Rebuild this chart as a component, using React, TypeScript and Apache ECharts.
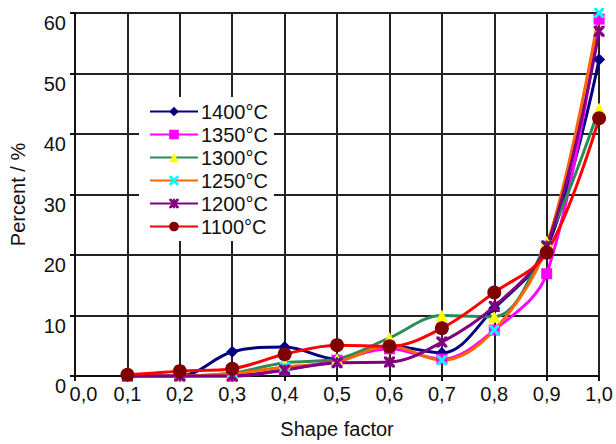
import React, { useEffect, useRef } from "react";
import * as echarts from "echarts";

const xValues = [0.1, 0.2, 0.3, 0.4, 0.5, 0.6, 0.7, 0.8, 0.9, 1.0];
const seriesNames = ["1400°C", "1350°C", "1300°C", "1250°C", "1200°C", "1100°C"];
const s1400 = [0, 0, 4.0, 4.8, 2.8, 5.0, 3.8, 11.2, 21, 52.3];
const s1350 = [0, 0, 0, 1.0, 2.6, 4.5, 2.8, 7.6, 16.9, 59];
const s1300 = [0, 0, 0.5, 2.2, 2.8, 6.3, 10.0, 9.8, 22.2, 44.2];
const s1250 = [0, 0, 0.4, 1.5, 2.3, 5.0, 2.6, 7.6, 21.6, 60];
const s1200 = [0, 0, 0, 1.0, 2.2, 2.3, 5.6, 11.5, 21.5, 57];
const s1100 = [0.2, 0.8, 1.2, 3.6, 5.1, 4.9, 7.9, 13.8, 20.4, 42.6];
const xTicks = [0, 0.1, 0.2, 0.3, 0.4, 0.5, 0.6, 0.7, 0.8, 0.9, 1.0];

const lineColors = ["#000080", "#FF00FF", "#2E8B57", "#FF6600", "#800080", "#FF0000"];
const markerColors = ["#000080", "#FF00FF", "#FFFF00", "#00FFFF", "#800080", "#800000"];
const xPath = "path://M0,0 L2.5,0 L5,3 L7.5,0 L10,0 L10,2 L7,5 L10,8 L10,10 L7.5,10 L5,7 L2.5,10 L0,10 L0,8 L3,5 L0,2 Z";
const starPath = "path://M0,0 L2.5,0 L5,3 L7.5,0 L10,0 L10,2 L7,5 L10,8 L10,10 L7.5,10 L5,7 L2.5,10 L0,10 L0,8 L3,5 L0,2 Z M4,0 L6,0 L6,10 L4,10 Z";
const symbols = ["diamond", "rect", "triangle", xPath, starPath, "circle"];
const symbolSizes = [12, 11, 12, 10, 11, 14];

const font = "Liberation Sans, Arial, sans-serif";

export default function App() {
  const ref = useRef<HTMLDivElement>(null);
  useEffect(() => {
    if (!ref.current) return;
    const chart = echarts.init(ref.current, null, { renderer: "svg" });
    const all = [s1400, s1350, s1300, s1250, s1200, s1100];
    chart.setOption({
      animation: false,
      backgroundColor: "#ffffff",
      textStyle: { fontFamily: font },
      grid: { left: 74.5, right: 1.5, top: 13, bottom: 63, containLabel: false },
      legend: {
        orient: "vertical",
        left: 139,
        top: 97,
        backgroundColor: "#ffffff",
        padding: [4, 6, 4, 10],
        itemWidth: 48,
        itemHeight: 12,
        itemGap: 2,
        data: seriesNames,
        textStyle: { fontSize: 20, color: "#111", fontFamily: font, lineHeight: 21, padding: [0, 0, 0, -2] },
      },
      xAxis: {
        type: "value",
        min: 0,
        max: 1,
        interval: 0.1,
        name: "Shape factor",
        nameLocation: "middle",
        nameGap: 43,
        nameTextStyle: { fontSize: 20, color: "#111", fontFamily: font },
        axisLine: { show: true, onZero: false, lineStyle: { color: "#111", width: 2 } },
        axisTick: { show: true, inside: false, length: 5, lineStyle: { color: "#111", width: 2 } },
        axisLabel: {
          fontSize: 20,
          color: "#111",
          margin: 8,
          showMaxLabel: true,
          showMinLabel: true,
          rich: {
            first: { fontSize: 20, color: "#111", fontFamily: font, padding: [0, 0, 0, 17] },
          },
          formatter: (v: number) => {
            const t = xTicks.find((k) => Math.abs(k - v) < 1e-6);
            const s = (t ?? v).toFixed(1).replace(".", ",");
            return Math.abs(v) < 1e-6 ? "{first|" + s + "}" : s;
          },
        },
        splitLine: { show: true, lineStyle: { color: "#222", width: 2 } },
      },
      yAxis: {
        type: "value",
        min: 0,
        max: 60,
        interval: 10,
        name: "Percent / %",
        nameLocation: "middle",
        nameGap: 47,
        nameTextStyle: { fontSize: 20, color: "#111", fontFamily: font },
        axisLine: { show: true, lineStyle: { color: "#111", width: 2 } },
        axisTick: { show: true, inside: false, length: 5, lineStyle: { color: "#111", width: 2 } },
        axisLabel: { fontSize: 20, color: "#111", margin: 9, verticalAlign: "top", lineHeight: 20 },
        splitLine: { show: true, lineStyle: { color: "#222", width: 2 } },
      },
      series: all.map((vals, i) => ({
        name: seriesNames[i],
        type: "line",
        smooth: 0.35,
        data: xValues.map((x, j) => [x, vals[j]]),
        symbol: symbols[i],
        symbolSize: symbolSizes[i],
        showAllSymbol: true,
        lineStyle: { color: lineColors[i], width: 3 },
        itemStyle: { color: markerColors[i], borderWidth: 0 },
        clip: false,
      })),
    });
    return () => chart.dispose();
  }, []);
  return (
    <div
      ref={ref}
      style={{ position: "fixed", left: 0, top: 0, width: 616, height: 444, background: "#fff" }}
    />
  );
}
